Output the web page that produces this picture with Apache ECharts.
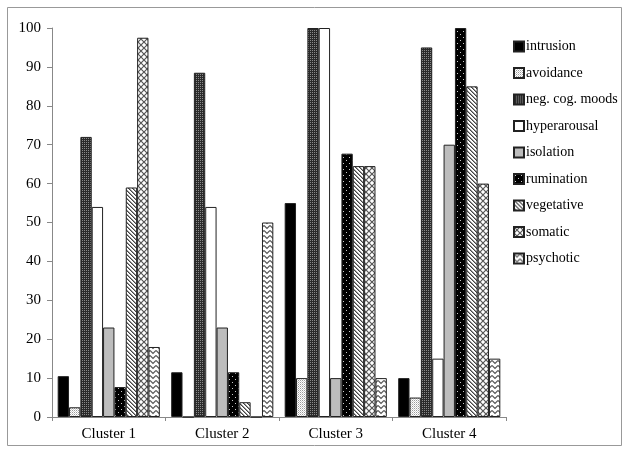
<!DOCTYPE html>
<html><head><meta charset="utf-8">
<script src="https://cdn.jsdelivr.net/npm/echarts@6/dist/echarts.min.js"></script>
<style>html,body{margin:0;padding:0;background:#fff}#c{width:629px;height:453px}</style>
</head><body><div id="c"></div>
<script>
const categories = ['Cluster 1','Cluster 2','Cluster 3','Cluster 4'];
const seriesNames = ['intrusion','avoidance','neg. cog. moods','hyperarousal','isolation','rumination','vegetative','somatic','psychotic'];
const intrusion    = [10.5, 11.5, 55, 10];
const avoidance    = [2.5, 0, 10, 5];
const negCogMoods  = [72, 88.5, 100, 95];
const hyperarousal = [54, 54, 100, 15];
const isolation    = [23, 23, 10, 70];
const rumination   = [7.7, 11.5, 67.7, 100];
const vegetative   = [59, 3.8, 64.5, 85];
const somatic      = [97.5, 0, 64.5, 60];
const psychotic    = [18, 50, 10, 15];
const yTicks = [0,10,20,30,40,50,60,70,80,90,100];
const allValues = [intrusion, avoidance, negCogMoods, hyperarousal, isolation, rumination, vegetative, somatic, psychotic];

function tile(w, h, draw) {
  const c = document.createElement('canvas');
  c.width = w; c.height = h;
  const g = c.getContext('2d');
  draw(g);
  return {image: c, repeat: 'repeat'};
}
function px(g, x, y, col){ g.fillStyle = col; g.fillRect(x, y, 1, 1); }

const fills = [
  '#000000',
  tile(2,2,g=>{g.fillStyle='#fff';g.fillRect(0,0,2,2);px(g,0,0,'#9a9a9a');px(g,1,1,'#d0d0d0');}),
  tile(2,2,g=>{g.fillStyle='#2a2a2a';g.fillRect(0,0,2,2);px(g,0,0,'#8a8a8a');}),
  '#ffffff',
  '#bdbdbd',
  tile(6,6,g=>{g.fillStyle='#000';g.fillRect(0,0,6,6);px(g,1,1,'#ccc');px(g,4,4,'#ccc');}),
  tile(4,4,g=>{g.fillStyle='#fff';g.fillRect(0,0,4,4);for(let i=0;i<4;i++){px(g,i,i,'#444');px(g,(i+1)%4,i,'#999');}}),
  tile(6,6,g=>{g.fillStyle='#fff';g.fillRect(0,0,6,6);g.strokeStyle='#555';g.lineWidth=1.2;g.beginPath();g.moveTo(0,0);g.lineTo(6,6);g.moveTo(6,0);g.lineTo(0,6);g.stroke();}),
  tile(6,5,g=>{g.fillStyle='#fff';g.fillRect(0,0,6,5);g.strokeStyle='#555';g.lineWidth=1.2;g.beginPath();g.moveTo(0,0.5);g.lineTo(3,3.5);g.lineTo(6,0.5);g.stroke();})
];

const series = seriesNames.map((n, i) => ({
  name: n,
  type: 'bar',
  data: allValues[i],
  barGap: '0%',
  barCategoryGap: '10%',
  itemStyle: { color: fills[i], borderColor: '#222', borderWidth: 1 }
}));

const chart = echarts.init(document.getElementById('c'), null, {renderer: 'canvas'});
chart.setOption({
  animation: false,
  backgroundColor: '#fff',
  textStyle: { fontFamily: 'Liberation Serif' },
  graphic: [{ type: 'rect', shape: {x: 7.5, y: 7.5, width: 614, height: 438}, style: {fill: 'none', stroke: '#999', lineWidth: 1}, silent: true }],
  grid: { left: 52, right: 123, top: 28, bottom: 36 },
  legend: {
    orient: 'vertical', left: 508, top: 34,
    icon: 'rect',
    itemWidth: 10, itemHeight: 10, itemGap: 11.5,
    data: seriesNames,
    textStyle: { fontFamily: 'Liberation Serif', fontSize: 14, color: '#000', lineHeight: 15, padding: [0,0,0,-3] }
  },
  xAxis: {
    type: 'category', data: categories,
    axisLine: { lineStyle: { color: '#888' } },
    axisTick: { show: true, length: 4, lineStyle: { color: '#888' } },
    axisLabel: { fontFamily: 'Liberation Serif', fontSize: 15, color: '#000', margin: 10 }
  },
  yAxis: {
    type: 'value', min: 0, max: 100, interval: 10,
    axisLine: { show: true, lineStyle: { color: '#888' } },
    axisTick: { show: true, length: 5, lineStyle: { color: '#888' } },
    splitLine: { show: false },
    axisLabel: { fontFamily: 'Liberation Serif', fontSize: 15, color: '#000', margin: 11,
      formatter: v => yTicks.includes(v) ? String(v) : '' }
  },
  series: series
});
</script></body></html>
